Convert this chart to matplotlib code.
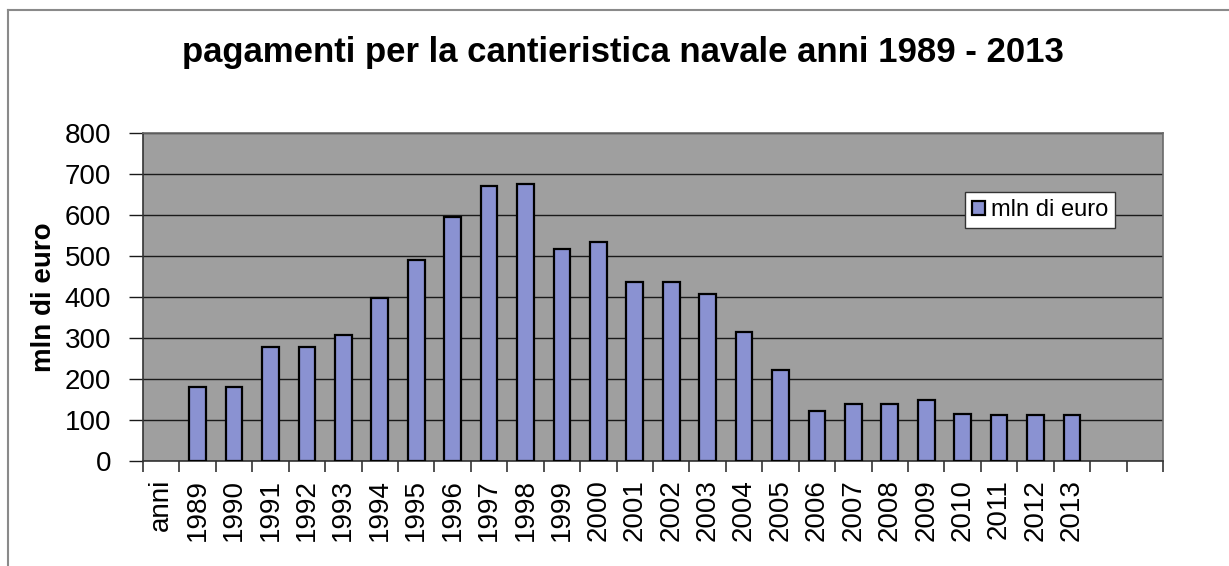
import matplotlib
matplotlib.use("Agg")
import matplotlib.pyplot as plt
import numpy as np
from matplotlib.lines import Line2D

# ── data ─────────────────────────────────────────────────────────────────
CATEGORIES = ["anni"] + [str(y) for y in range(1989, 2014)] + ["", ""]
YEARS = [str(y) for y in range(1989, 2014)]
VALUES = [180, 180, 278, 278, 307, 398, 490, 596, 671, 676, 517, 535, 437,
          437, 407, 315, 223, 121, 139, 139, 148, 114, 113, 113, 112]

TITLE = "pagamenti per la cantieristica navale anni 1989 - 2013"
YLABEL = "mln di euro"
SERIES = "mln di euro"

BAR_COLOR = "#8a92d2"
PLOT_BG = "#9f9f9f"

plt.rcParams["font.family"] = ["Liberation Sans", "DejaVu Sans"]

W, H = 1229, 566
fig = plt.figure(figsize=(W / 100, H / 100), dpi=100)
ax = fig.add_axes([143 / W, 1 - 461 / H, (1163 - 143) / W, (461 - 133) / H])
ax.set_facecolor(PLOT_BG)

x = np.array([CATEGORIES.index(y) for y in YEARS])
ax.bar(x, VALUES, width=0.46, color=BAR_COLOR, edgecolor="black",
       linewidth=1.6, label=SERIES, zorder=3)

ax.set_xlim(-0.5, len(CATEGORIES) - 0.5)
ax.set_ylim(0, 800)
ax.set_yticks(np.arange(0, 801, 100))
ax.grid(True, axis="y", color="#1a1a1a", lw=1.0, zorder=1)

# category labels at centres, tick marks at boundaries
ax.set_xticks(np.arange(len(CATEGORIES)))
ax.set_xticklabels(CATEGORIES, rotation=90, fontsize=20, va="top", ha="center")
ax.set_xticks(np.arange(len(CATEGORIES) + 1) - 0.5, minor=True)
ax.tick_params(axis="x", which="major", length=0, pad=13)
ax.tick_params(axis="x", which="minor", length=8, width=1.2, color="#333333")
ax.tick_params(axis="y", length=10, width=1.0, pad=13, labelsize=20,
               color="#1a1a1a")

for side in ("left", "bottom"):
    ax.spines[side].set_color("#333333")
    ax.spines[side].set_linewidth(1.2)
for side in ("top", "right"):
    ax.spines[side].set_color("#6a6a6a")
    ax.spines[side].set_linewidth(1.2)

ax.set_ylabel(YLABEL, fontsize=20, fontweight="bold")
ax.yaxis.set_label_coords((57 - 143) / 1020, 0.5)

leg = ax.legend(loc="upper left", bbox_to_anchor=((965 - 143) / 1020, (461 - 192) / 328),
                fontsize=17, frameon=True, fancybox=False, handlelength=0.55,
                handleheight=0.55, handletextpad=0.25, borderpad=0.3,
                borderaxespad=0)
leg.get_frame().set_edgecolor("#333333")
leg.get_frame().set_linewidth(1.0)
leg.get_frame().set_alpha(1)

fig.text(623 / W, 1 - 62 / H, TITLE, ha="center", va="baseline",
         fontsize=25, fontweight="bold")

# outer chart border (only left and top edges visible in the frame)
fig.add_artist(Line2D([8 / W, 8 / W], [0, 1 - 10 / H], color="#8a8a8a",
                      lw=1.5, transform=fig.transFigure))
fig.add_artist(Line2D([8 / W, 1], [1 - 10 / H, 1 - 10 / H], color="#8a8a8a",
                      lw=1.5, transform=fig.transFigure))

fig.savefig("out.png", dpi=100)
